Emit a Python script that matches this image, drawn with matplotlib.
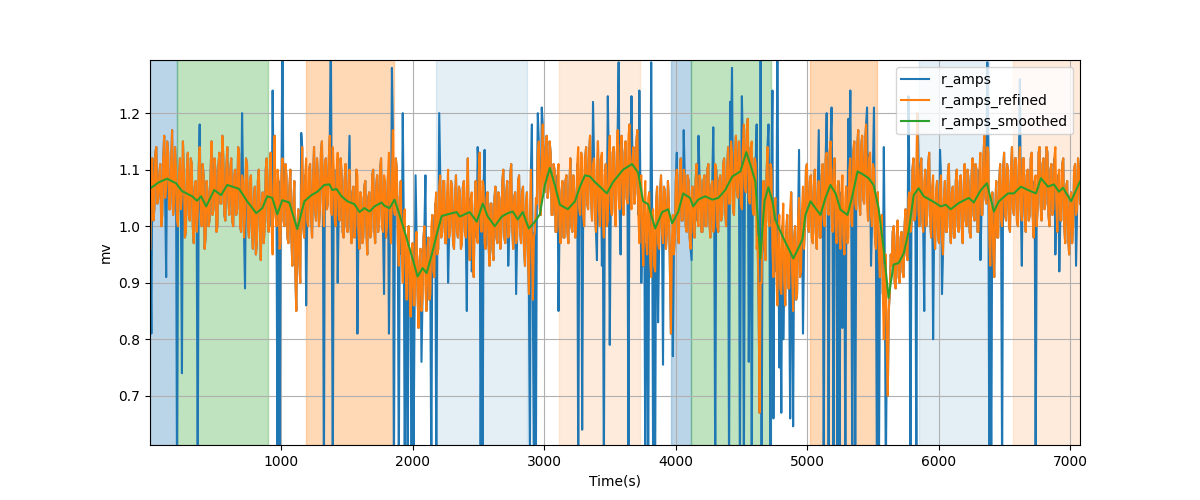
import numpy as np
import matplotlib
matplotlib.use("Agg")
import matplotlib.pyplot as plt

# ---------------- data ----------------
# refined amplitudes (mv), evenly sampled from t=5 s to t=7075 s
r_amps_refined = [
    0.96, 1.10, 1.12, 1.01, 1.03, 1.13, 1.14, 1.04, 1.05, 1.09, 1.11, 1.00, 1.02, 1.12, 1.16, 1.05, 1.07, 1.15, 1.13, 1.03,
    1.03, 1.11, 1.17, 1.02, 1.04, 1.14, 1.10, 1.01, 1.00, 1.09, 1.12, 1.03, 1.06, 1.15, 1.09, 0.98, 0.99, 1.10, 1.13, 1.02,
    1.01, 1.12, 1.11, 1.00, 0.97, 1.07, 1.08, 0.99, 1.02, 1.10, 1.14, 1.03, 1.00, 1.11, 1.09, 0.96, 0.98, 1.08, 1.06, 1.00,
    1.01, 1.09, 1.15, 1.02, 1.03, 1.12, 1.10, 0.99, 1.00, 1.11, 1.13, 1.04, 1.04, 1.16, 1.12, 1.02, 1.01, 1.10, 1.14, 1.05,
    1.02, 1.10, 1.12, 1.01, 1.00, 1.09, 1.10, 1.02, 1.03, 1.14, 1.13, 1.00, 0.99, 1.09, 1.08, 0.98, 1.02, 1.12, 1.11, 1.00,
    0.98, 1.08, 1.09, 0.99, 0.96, 1.05, 1.07, 0.95, 0.97, 1.08, 1.10, 1.00, 0.94, 1.04, 1.06, 0.97, 1.00, 1.10, 1.12, 1.01,
    0.99, 1.09, 1.13, 1.00, 0.95, 1.07, 1.16, 1.02, 1.00, 1.10, 1.08, 0.96, 0.97, 1.09, 1.12, 1.01, 1.00, 1.11, 1.09, 0.98,
    0.97, 1.07, 1.10, 0.98, 0.93, 1.04, 1.08, 0.92, 0.85, 1.00, 1.03, 0.94, 0.90, 1.06, 1.14, 1.00, 0.98, 1.09, 1.12, 1.01,
    1.00, 1.10, 1.11, 1.02, 0.98, 1.08, 1.14, 1.03, 1.01, 1.12, 1.09, 1.00, 1.03, 1.13, 1.15, 1.04, 1.00, 1.11, 1.12, 1.03,
    1.04, 1.12, 1.16, 1.03, 1.02, 1.14, 1.10, 1.01, 1.00, 1.10, 1.13, 1.02, 1.01, 1.12, 1.09, 0.99, 0.98, 1.08, 1.11, 1.00,
    0.99, 1.08, 1.10, 1.00, 0.97, 1.06, 1.07, 0.98, 1.00, 1.10, 1.09, 0.99, 0.96, 1.06, 1.05, 0.97, 0.98, 1.07, 1.08, 1.00,
    0.95, 1.05, 1.06, 0.98, 0.99, 1.09, 1.10, 1.00, 0.97, 1.07, 1.09, 0.99, 1.01, 1.10, 1.12, 1.00, 0.99, 1.09, 1.08, 0.98,
    1.00, 1.09, 1.13, 1.01, 0.97, 1.08, 1.17, 1.03, 1.02, 1.12, 1.10, 0.97, 0.93, 1.05, 1.08, 0.95, 0.90, 1.01, 1.03, 0.92,
    0.87, 0.98, 1.00, 0.88, 0.84, 0.95, 0.97, 0.86, 0.86, 0.97, 0.99, 0.88, 0.82, 0.94, 0.96, 0.85, 0.87, 0.98, 1.00, 0.89,
    0.85, 0.96, 0.98, 0.87, 0.88, 1.00, 1.02, 0.92, 0.91, 1.04, 1.06, 0.95, 0.96, 1.07, 1.09, 0.98, 0.99, 1.08, 1.08, 0.97,
    0.97, 1.06, 1.10, 0.98, 0.99, 1.08, 1.07, 0.97, 0.96, 1.05, 1.09, 0.99, 0.98, 1.07, 1.06, 0.96, 0.97, 1.07, 1.08, 0.99,
    0.98, 1.07, 1.12, 0.99, 0.94, 1.05, 1.06, 0.95, 0.91, 1.03, 1.08, 0.98, 0.97, 1.09, 1.13, 1.00, 0.99, 1.08, 1.07, 0.97,
    0.96, 1.05, 1.06, 0.97, 0.93, 1.04, 1.04, 0.96, 0.94, 1.05, 1.07, 0.98, 0.97, 1.06, 1.05, 0.96, 0.99, 1.08, 1.10, 0.98,
    0.97, 1.06, 1.08, 0.98, 0.99, 1.09, 1.11, 1.00, 0.96, 1.05, 1.06, 0.97, 0.98, 1.08, 1.09, 0.99, 0.97, 1.06, 1.07, 0.96,
    0.93, 1.04, 1.06, 0.95, 0.88, 1.02, 1.10, 0.96, 0.87, 0.98, 0.99, 1.05, 1.04, 1.13, 1.15, 1.03, 1.02, 1.12, 1.18, 1.06,
    1.06, 1.14, 1.16, 1.05, 1.07, 1.15, 1.13, 1.02, 1.02, 1.11, 1.10, 0.99, 0.99, 1.09, 1.11, 1.00, 0.97, 1.06, 1.08, 0.98,
    0.98, 1.08, 1.09, 0.99, 0.97, 1.07, 1.12, 1.00, 0.99, 1.09, 1.06, 0.98, 1.01, 1.11, 1.14, 1.03, 1.02, 1.13, 1.12, 1.02,
    1.00, 1.12, 1.14, 1.04, 1.03, 1.13, 1.16, 1.05, 1.01, 1.11, 1.12, 1.02, 0.99, 1.10, 1.15, 1.03, 1.00, 1.12, 1.13, 1.01,
    0.98, 1.09, 1.11, 1.00, 1.01, 1.12, 1.16, 1.04, 1.02, 1.13, 1.14, 1.03, 1.00, 1.12, 1.17, 1.05, 1.03, 1.14, 1.16, 1.04,
    1.02, 1.13, 1.15, 1.05, 1.04, 1.16, 1.18, 1.06, 1.03, 1.12, 1.14, 1.04, 1.06, 1.15, 1.17, 1.02, 0.97, 1.08, 1.09, 0.98,
    0.93, 1.04, 1.08, 0.97, 0.95, 1.05, 1.06, 0.94, 0.91, 1.02, 1.03, 0.93, 0.92, 1.04, 1.07, 0.97, 0.96, 1.06, 1.09, 0.99,
    0.97, 1.07, 1.06, 0.96, 0.99, 1.08, 1.04, 0.92, 0.81, 0.97, 1.02, 0.95, 0.98, 1.08, 1.10, 0.99, 0.97, 1.09, 1.12, 1.01,
    1.01, 1.10, 1.09, 1.00, 0.99, 1.09, 1.08, 0.98, 0.96, 1.06, 1.07, 0.99, 0.98, 1.08, 1.11, 1.01, 1.00, 1.09, 1.08, 0.99,
    0.99, 1.08, 1.09, 1.00, 1.00, 1.10, 1.11, 1.01, 0.98, 1.07, 1.08, 0.99, 1.01, 1.11, 1.10, 1.00, 0.99, 1.08, 1.09, 1.01,
    1.02, 1.11, 1.12, 1.03, 1.00, 1.10, 1.14, 1.04, 1.04, 1.15, 1.13, 1.03, 1.02, 1.13, 1.16, 1.06, 1.05, 1.15, 1.12, 1.04,
    1.03, 1.14, 1.18, 1.07, 1.06, 1.17, 1.19, 1.05, 1.04, 1.14, 1.15, 1.03, 1.02, 1.12, 1.11, 0.96, 0.98, 0.86, 0.67, 0.90,
    0.90, 1.04, 1.08, 0.96, 0.94, 1.09, 1.14, 1.01, 1.00, 1.11, 1.10, 0.96, 0.91, 1.02, 1.05, 0.92, 0.86, 0.99, 1.02, 0.89,
    0.88, 1.00, 1.04, 0.90, 0.86, 0.99, 1.02, 0.89, 0.89, 1.03, 1.06, 0.92, 0.85, 0.98, 1.00, 0.87, 0.88, 1.01, 1.05, 0.91,
    0.92, 1.03, 1.07, 0.96, 1.00, 1.10, 1.11, 1.00, 0.99, 1.08, 1.09, 0.98, 0.97, 1.07, 1.10, 0.99, 0.96, 1.06, 1.08, 0.98,
    0.98, 1.09, 1.11, 1.01, 1.00, 1.12, 1.13, 1.03, 1.02, 1.13, 1.15, 1.02, 0.99, 1.10, 1.12, 1.00, 0.97, 1.07, 1.08, 0.98,
    0.96, 1.06, 1.09, 0.98, 0.95, 1.05, 1.07, 0.97, 0.98, 1.10, 1.12, 1.01, 1.00, 1.13, 1.15, 1.04, 1.03, 1.14, 1.17, 1.05,
    1.02, 1.14, 1.16, 1.05, 1.04, 1.15, 1.18, 1.04, 1.01, 1.12, 1.13, 1.02, 1.00, 1.11, 1.10, 0.98, 0.96, 1.05, 1.06, 0.95,
    0.91, 1.00, 1.02, 0.88, 0.80, 0.93, 0.95, 0.78, 0.70, 0.85, 0.88, 0.95, 0.93, 0.99, 1.00, 0.90, 0.89, 0.98, 1.01, 0.91,
    0.90, 0.98, 0.99, 0.92, 0.91, 1.00, 1.03, 0.95, 0.94, 1.05, 1.06, 0.99, 1.00, 1.10, 1.12, 1.01, 1.02, 1.11, 1.20, 1.03,
    1.00, 1.10, 1.12, 1.01, 0.99, 1.08, 1.10, 1.00, 1.02, 1.11, 1.13, 1.01, 0.98, 1.07, 1.09, 0.99, 0.96, 1.06, 1.08, 0.98,
    0.97, 1.07, 1.09, 0.98, 0.95, 1.05, 1.08, 0.99, 0.99, 1.09, 1.11, 1.00, 0.97, 1.06, 1.07, 0.98, 0.98, 1.08, 1.10, 1.00,
    0.99, 1.08, 1.09, 1.00, 0.97, 1.07, 1.11, 1.01, 1.00, 1.10, 1.08, 0.99, 0.98, 1.09, 1.12, 1.02, 1.01, 1.11, 1.10, 0.99,
    0.99, 1.10, 1.13, 1.02, 1.02, 1.12, 1.16, 1.05, 1.04, 1.14, 1.13, 0.98, 0.93, 1.04, 1.06, 0.95, 0.91, 1.03, 1.08, 0.98,
    0.98, 1.08, 1.11, 1.01, 1.00, 1.10, 1.13, 1.02, 1.01, 1.11, 1.10, 1.00, 0.99, 1.10, 1.14, 1.03, 1.02, 1.12, 1.12, 1.01,
    1.00, 1.11, 1.14, 1.03, 1.01, 1.12, 1.12, 1.02, 0.99, 1.09, 1.10, 1.01, 1.02, 1.12, 1.13, 1.02, 0.98, 1.08, 1.09, 1.00,
    1.03, 1.13, 1.14, 1.04, 1.01, 1.11, 1.12, 1.03, 1.04, 1.14, 1.13, 1.02, 1.00, 1.10, 1.11, 1.02, 1.03, 1.12, 1.14, 1.04,
    0.99, 1.09, 1.10, 1.01, 1.01, 1.11, 1.12, 1.00, 0.97, 1.07, 1.08, 0.98, 0.95, 1.05, 1.06, 0.97, 1.00, 1.10, 1.11, 1.02,
    1.03, 1.12, 1.10, 1.04,
]
t_start, t_end = 5, 7075

# outlier beats present in the raw r_amps (time s, mv); 0.55 / 1.35 = off-axis
spike_times = [
    15, 122, 208, 248, 362, 377, 705, 725, 934, 970, 985, 1010, 1150, 1188,
    1328, 1374, 1391, 1430, 1519, 1577, 1785, 1816, 1842, 1857, 1895, 1925,
    1940, 1965, 1995, 2010, 2020, 2065, 2095, 2140, 2180, 2205, 2268,
    2408, 2446, 2497, 2520, 2535, 2550, 2725, 2784, 2890, 2905, 2920, 2935,
    2950, 2980, 3112, 3259, 3290, 3369, 3399, 3437, 3455, 3487, 3502, 3564,
    3580, 3640, 3666, 3724, 3740, 3767, 3793, 3811, 3826, 3845, 3869, 3906,
    3976, 4009, 4059, 4118, 4174, 4285, 4301, 4403, 4415, 4430, 4492, 4507,
    4522, 4555, 4581, 4615, 4643, 4657, 4705, 4720, 4733, 4745, 4771, 4785,
    4800, 4821, 4872, 4890, 4936, 4967, 5089, 5124, 5150, 5165, 5185, 5200,
    5230, 5245, 5267, 5292, 5310, 5330, 5343, 5368, 5457, 5482, 5507, 5528,
    5546, 5582, 5597, 5772, 5787, 5833, 5848, 5894, 5957, 6014, 6029, 6321,
    6370, 6384, 6399, 6486, 6618, 6633, 6734, 6887, 6918, 7045,
]
spike_values = [
    0.81, 0.91, 0.55, 0.74, 0.55, 1.18, 1.20, 0.89, 1.24, 0.55, 0.55, 1.35, 1.165, 0.86,
    0.55, 1.35, 0.55, 0.90, 1.16, 0.81, 0.88, 0.81, 1.28, 0.55, 0.55, 1.20,
    0.55, 0.55, 0.55, 0.60, 1.09, 0.76, 1.09, 0.55, 0.55, 1.20, 0.90,
    0.85, 0.92, 1.14, 0.55, 0.55, 1.135, 0.93, 0.88, 0.55, 1.18, 0.55, 0.55,
    1.20, 1.21, 0.85, 0.55, 0.64, 1.22, 0.94, 0.93, 0.55, 1.23, 0.79, 1.29,
    0.95, 0.55, 1.23, 1.24, 0.90, 0.55, 0.55, 1.29, 0.55, 0.55, 0.83, 0.755,
    0.77, 1.13, 1.17, 0.94, 1.16, 1.175, 0.55, 0.55, 1.22, 1.28, 0.55, 1.23,
    0.55, 0.76, 0.55, 1.18, 1.35, 0.55, 1.18, 0.55, 1.24, 0.66, 1.35, 0.75,
    0.67, 0.80, 0.66, 0.646, 1.135, 0.81, 1.17, 0.55, 1.20, 0.55, 1.21, 0.55,
    0.55, 0.55, 0.82, 0.55, 1.19, 1.24, 0.55, 0.55, 1.21, 0.93, 1.21, 0.55,
    0.55, 1.14, 0.55, 1.23, 0.55, 0.55, 1.14, 0.85, 0.80, 1.135, 0.88, 0.94,
    1.29, 0.55, 0.55, 0.55, 1.26, 0.93, 0.55, 0.95, 0.92, 0.93,
]

t_smooth = [
    5, 71, 132, 200, 246, 322, 360, 391, 429, 490, 543, 589, 680, 741, 810,
    856, 894, 932, 970, 1008, 1061, 1122, 1176, 1229, 1275, 1328, 1366, 1389,
    1420, 1458, 1504, 1557, 1595, 1633, 1671, 1709, 1763, 1786, 1824, 1862,
    1900, 1938, 1991, 2037, 2075, 2106, 2144, 2182, 2220, 2266, 2334, 2357,
    2433, 2487, 2533, 2571, 2624, 2677, 2723, 2761, 2799, 2837, 2883, 2929,
    2967, 3005, 3043, 3081, 3119, 3180, 3234, 3272, 3310, 3348, 3386, 3424,
    3477, 3523, 3600, 3668, 3714, 3752, 3790, 3844, 3897, 3943, 3973, 4019,
    4057, 4110, 4133, 4171, 4225, 4278, 4324, 4377, 4431, 4492, 4537, 4568,
    4606, 4644, 4675, 4705, 4736, 4758, 4819, 4895, 4933, 4964, 4987, 5025,
    5063, 5101, 5139, 5177, 5216, 5254, 5307, 5345, 5383, 5429, 5467, 5505,
    5543, 5581, 5619, 5657, 5696, 5734, 5772, 5810, 5848, 5886, 5955, 6016,
    6054, 6092, 6153, 6229, 6267, 6321, 6367, 6420, 6458, 6527, 6572, 6626,
    6679, 6740, 6778, 6831, 6877, 6915, 6946, 7007, 7075,
]
r_amps_smoothed = [
    1.067, 1.078, 1.084, 1.076, 1.062, 1.053, 1.045, 1.053, 1.035, 1.064, 1.055, 1.073, 1.066, 1.044, 1.023,
    1.032, 1.053, 1.050, 1.021, 1.046, 1.042, 0.995, 1.044, 1.055, 1.061, 1.073, 1.074, 1.064,
    1.066, 1.053, 1.044, 1.039, 1.025, 1.032, 1.026, 1.035, 1.042, 1.036, 1.032, 1.047,
    1.020, 0.991, 0.949, 0.911, 0.926, 0.917, 0.949, 0.985, 1.018, 1.021, 1.025, 1.017,
    1.025, 1.008, 1.040, 1.017, 1.000, 1.017, 1.023, 1.026, 1.012, 1.025, 0.996, 1.008,
    1.021, 1.073, 1.103, 1.073, 1.038, 1.030, 1.044, 1.070, 1.090, 1.088, 1.078, 1.070,
    1.058, 1.078, 1.100, 1.110, 1.095, 1.044, 1.039, 0.996, 1.025, 1.030, 1.005, 1.025,
    1.058, 1.050, 1.035, 1.047, 1.053, 1.047, 1.050, 1.064, 1.088, 1.097, 1.131, 1.109,
    1.079, 0.943, 1.044, 1.069, 1.044, 1.011, 0.979, 0.943, 0.961, 0.977, 1.020, 1.044,
    1.032, 1.020, 1.050, 1.073, 1.058, 1.029, 1.020, 1.055, 1.097, 1.091, 1.085, 1.073,
    1.032, 0.961, 0.873, 0.932, 0.935, 0.952, 0.991, 1.055, 1.067, 1.053, 1.044, 1.035,
    1.038, 1.030, 1.041, 1.050, 1.042, 1.064, 1.076, 1.026, 1.044, 1.058, 1.058, 1.070,
    1.064, 1.058, 1.085, 1.070, 1.074, 1.061, 1.068, 1.044, 1.079,
]

# shaded segments
span_starts = [2, 210, 1189, 2174, 3112, 3965, 4117, 5024, 5851, 6567]
span_ends = [210, 901, 1857, 2866, 3729, 4117, 4725, 5528, 6384, 7075]
span_colors = ["tab:blue", "tab:green", "tab:orange", "tab:blue", "tab:orange",
               "tab:blue", "tab:green", "tab:orange", "tab:blue", "tab:orange"]
span_alphas = [0.3, 0.3, 0.3, 0.12, 0.15, 0.3, 0.3, 0.3, 0.12, 0.15]

# ---------------- build series ----------------
t = np.linspace(t_start, t_end, len(r_amps_refined))
refined = np.array(r_amps_refined, dtype=float)
r_amps = refined.copy()
for st, sv in zip(spike_times, spike_values):
    r_amps[np.argmin(np.abs(t - st))] = sv

# ---------------- plot ----------------
fig, ax = plt.subplots(figsize=(12, 5), dpi=100)
for s0, s1, c, a in zip(span_starts, span_ends, span_colors, span_alphas):
    ax.axvspan(s0, s1, color=c, alpha=a)

ax.plot(t, r_amps, color="tab:blue", label="r_amps")
ax.plot(t, refined, color="tab:orange", label="r_amps_refined")
ax.plot(t_smooth, r_amps_smoothed, color="tab:green", label="r_amps_smoothed")

ax.set_xlim(2, 7075)
ax.set_ylim(0.613, 1.294)
ax.grid(True)
ax.set_xlabel("Time(s)")
ax.set_ylabel("mv")
ax.legend(loc="upper right")

fig.savefig("out.png", dpi=100)
